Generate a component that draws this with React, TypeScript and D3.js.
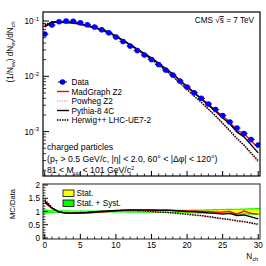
import React from "react";
import * as d3 from "d3";

const nch = d3.range(0, 31);
const dataVals = [0.0582, 0.0847, 0.0971, 0.1, 0.0988, 0.0932, 0.0857, 0.0779, 0.0697, 0.0614, 0.0514, 0.0426, 0.0353, 0.0293, 0.0243, 0.0201, 0.01634, 0.013, 0.01056, 0.00822, 0.0064, 0.00505, 0.004, 0.00315, 0.00251, 0.00195, 0.00149, 0.00116, 0.000924, 0.00072, 0.000572];
const madgraphRatio = [1.33, 1.12, 0.98, 0.94, 0.93, 0.93, 0.94, 0.96, 0.98, 1.0, 1.02, 1.04, 1.05, 1.05, 1.05, 1.05, 1.05, 1.05, 1.04, 1.03, 1.02, 1.02, 1.0, 1.0, 0.97, 0.98, 1.0, 0.9, 1.02, 0.93, 0.9];
const powhegRatio = [1.4, 1.14, 0.98, 0.94, 0.94, 0.95, 0.96, 0.98, 1.0, 1.01, 1.02, 1.03, 1.03, 1.02, 1.01, 0.99, 0.97, 0.96, 0.94, 0.91, 0.88, 0.85, 0.83, 0.79, 0.75, 0.71, 0.68, 0.62, 0.6, 0.55, 0.48];
const pythiaRatio = [1.38, 1.13, 0.98, 0.94, 0.94, 0.95, 0.96, 0.98, 1.0, 1.02, 1.04, 1.05, 1.06, 1.06, 1.06, 1.06, 1.05, 1.05, 1.04, 1.02, 1.0, 0.99, 0.97, 0.95, 0.93, 0.9, 0.93, 0.85, 0.87, 0.8, 0.72];
const herwigRatio = [1.45, 1.15, 0.98, 0.95, 0.95, 0.96, 0.97, 0.99, 1.01, 1.02, 1.03, 1.04, 1.04, 1.03, 1.02, 1.0, 0.98, 0.97, 0.95, 0.92, 0.9, 0.87, 0.85, 0.81, 0.77, 0.73, 0.7, 0.65, 0.62, 0.57, 0.52];
const statErr = [0.02, 0.01, 0.01, 0.01, 0.01, 0.01, 0.01, 0.01, 0.01, 0.01, 0.01, 0.01, 0.012, 0.014, 0.016, 0.018, 0.02, 0.022, 0.025, 0.028, 0.03, 0.035, 0.04, 0.045, 0.05, 0.055, 0.06, 0.065, 0.07, 0.08, 0.09];
const totErr = [0.08, 0.06, 0.05, 0.045, 0.04, 0.04, 0.04, 0.04, 0.04, 0.04, 0.04, 0.04, 0.045, 0.045, 0.05, 0.05, 0.055, 0.055, 0.06, 0.065, 0.07, 0.075, 0.08, 0.085, 0.09, 0.095, 0.1, 0.105, 0.11, 0.12, 0.13];
const xTicks = [0, 5, 10, 15, 20, 25, 30];
const ratioTicks = [0, 0.5, 1, 1.5, 2];
const logMajor = [-3, -2, -1];

const FONT = "'Liberation Sans', Arial, Helvetica, sans-serif";

export default function App() {
  const L = 43, R = 260;
  const T1 = 12, B1 = 176;
  const T2 = 184, B2 = 239;
  const x = d3.scaleLinear().domain([-0.25, 30.25]).range([L, R]);
  const y = d3.scaleLog().domain([Math.pow(10, -3.803), Math.pow(10, -0.837)]).range([B1, T1]);
  const yr = d3.scaleLinear().domain([0, 2]).range([238, 185]);

  const models = [
    { name: "MadGraph Z2", ratio: madgraphRatio, color: "#ff0000", dash: "", w: 1.4 },
    { name: "Powheg Z2", ratio: powhegRatio, color: "#ff7777", dash: "1.2,1.2", w: 1.2 },
    { name: "Pythia-8 4C", ratio: pythiaRatio, color: "#000000", dash: "", w: 1.4 },
    { name: "Herwig++ LHC-UE7-2", ratio: herwigRatio, color: "#000000", dash: "1.5,1", w: 1.4 },
  ];

  const topLine = d3.line<number>().x((_, i) => x(nch[i])).y((v) => y(v));
  const ratioLine = d3.line<number>().x((_, i) => x(nch[i])).y((v) => yr(v));

  const bandExt = (err: number[]) => {
    const pts = err.map((e, i) => ({ n: nch[i], e }));
    const up = pts.flatMap((p) => [[x(p.n - 0.5), yr(1 + p.e)], [x(p.n + 0.5), yr(1 + p.e)]]);
    const dn = pts.slice().reverse().flatMap((p) => [[x(p.n + 0.5), yr(1 - p.e)], [x(p.n - 0.5), yr(1 - p.e)]]);
    return "M" + up.concat(dn).map((p) => p.join(",")).join("L") + "Z";
  };

  const minorLog: number[] = [];
  for (let d = -4; d <= -1; d++) for (let m = 2; m <= 9; m++) {
    const v = m * Math.pow(10, d);
    if (v >= Math.pow(10, -3.803) && v <= Math.pow(10, -0.837)) minorLog.push(v);
  }
  const minorX = d3.range(0, 31).filter((v) => v % 5 !== 0);
  const minorR = d3.range(0, 2.01, 0.1).filter((v) => Math.abs(v * 2 - Math.round(v * 2)) > 1e-6);

  const fs = 8.2;
  const fi = 8.7;
  const legY = [82, 91.5, 101, 110.5, 120];

  return (
    <svg width={266} height={266} style={{ position: "absolute", left: 0, top: 0, background: "#fff" }} fontFamily={FONT}>
      <defs>
        <clipPath id="c1"><rect x={L} y={T1} width={R - L} height={B1 - T1} /></clipPath>
        <clipPath id="c2"><rect x={L} y={T2} width={R - L} height={B2 - T2} /></clipPath>
      </defs>
      <rect width={266} height={266} fill="#fff" />

      {/* top panel */}
      <g clipPath="url(#c1)">
        {models.map((m) => (
          <path key={m.name} d={topLine(m.ratio.map((r, i) => r * dataVals[i])) || ""} fill="none" stroke={m.color} strokeWidth={m.w} strokeDasharray={m.dash || undefined} />
        ))}
        {dataVals.map((v, i) => (
          <g key={i}>
            <line x1={x(nch[i] - 0.5)} x2={x(nch[i] + 0.5)} y1={y(v)} y2={y(v)} stroke="#000" strokeWidth={1} />
            <circle cx={x(nch[i])} cy={y(v)} r={2.8} fill="#0000ff" />
          </g>
        ))}
      </g>
      <rect x={L} y={T1} width={R - L} height={B1 - T1} fill="none" stroke="#000" strokeWidth={1.2} />
      {logMajor.map((d) => (
        <g key={d}>
          <line x1={L} x2={L + 6} y1={y(Math.pow(10, d))} y2={y(Math.pow(10, d))} stroke="#000" />
          <text x={L - 4} y={y(Math.pow(10, d)) + 3} textAnchor="end" fontSize={fs}>
            10<tspan dy={-3.5} fontSize={6}>{d}</tspan>
          </text>
        </g>
      ))}
      {minorLog.map((v, i) => (
        <line key={i} x1={L} x2={L + 3} y1={y(v)} y2={y(v)} stroke="#000" strokeWidth={0.8} />
      ))}
      {xTicks.map((t) => (
        <line key={t} x1={x(t)} x2={x(t)} y1={B1} y2={B1 - 5} stroke="#000" />
      ))}
      {minorX.map((t) => (
        <line key={t} x1={x(t)} x2={x(t)} y1={B1} y2={B1 - 2.5} stroke="#000" strokeWidth={0.8} />
      ))}

      <text x={254} y={23} textAnchor="end" fontSize={fs}>
        CMS  <tspan>√</tspan><tspan textDecoration="overline">s</tspan> = 7 TeV
      </text>

      {/* legend */}
      <circle cx={62.5} cy={legY[0]} r={2.8} fill="#0000ff" />
      <line x1={58} x2={67} y1={legY[0]} y2={legY[0]} stroke="#000" strokeWidth={1} />
      <text x={71.5} y={legY[0] + 3} fontSize={fs}>Data</text>
      {models.map((m, i) => (
        <g key={m.name}>
          <line x1={57} x2={69} y1={legY[i + 1]} y2={legY[i + 1]} stroke={m.color} strokeWidth={m.w} strokeDasharray={m.dash || undefined} />
          <text x={71.5} y={legY[i + 1] + 3} fontSize={fs}>{m.name}</text>
        </g>
      ))}

      <text x={47} y={150} fontSize={fi}>charged particles</text>
      <text x={47} y={162} fontSize={fi}>
        (p<tspan dy={2} fontSize={5.5}>T</tspan><tspan dy={-2}> &gt; 0.5 GeV/c, |η| &lt; 2.0, 60° &lt; |Δφ| &lt; 120°)</tspan>
      </text>
      <text x={47} y={173} fontSize={fi}>
        81 &lt; M<tspan dy={2} fontSize={5.5}>μμ</tspan><tspan dy={-2}> &lt; 101 GeV/c</tspan><tspan dy={-3.5} fontSize={5.5}>2</tspan>
      </text>

      <text transform={`translate(13,52) rotate(-90)`} textAnchor="middle" fontSize={fs}>
        (1/N<tspan dy={2} fontSize={5.5}>ev</tspan><tspan dy={-2}>) dN</tspan><tspan dy={2} fontSize={5.5}>ev</tspan><tspan dy={-2}>/dN</tspan><tspan dy={2} fontSize={5.5}>ch</tspan>
      </text>

      {/* ratio panel */}
      <g clipPath="url(#c2)">
        <path d={bandExt(totErr)} fill="#00ff00" />
        <path d={bandExt(statErr)} fill="#ffff00" />
        {models.map((m) => (
          <path key={m.name} d={ratioLine(m.ratio) || ""} fill="none" stroke={m.color} strokeWidth={m.w} strokeDasharray={m.dash || undefined} />
        ))}
      </g>
      <rect x={L} y={T2} width={R - L} height={B2 - T2} fill="none" stroke="#555" strokeWidth={1.3} />
      {ratioTicks.map((t) => (
        <g key={t}>
          <line x1={L} x2={L + 5} y1={yr(t)} y2={yr(t)} stroke="#000" />
          <text x={L - 3} y={yr(t) + 3} textAnchor="end" fontSize={fs}>{t}</text>
        </g>
      ))}
      {minorR.map((t, i) => (
        <line key={i} x1={L} x2={L + 2.5} y1={yr(t)} y2={yr(t)} stroke="#000" strokeWidth={0.8} />
      ))}
      {xTicks.map((t) => (
        <g key={t}>
          <line x1={x(t)} x2={x(t)} y1={B2} y2={B2 - 5} stroke="#000" />
          <text x={x(t)} y={248} textAnchor="middle" fontSize={fs}>{t}</text>
        </g>
      ))}
      {minorX.map((t) => (
        <line key={t} x1={x(t)} x2={x(t)} y1={B2} y2={B2 - 2.5} stroke="#000" strokeWidth={0.8} />
      ))}
      <text x={258} y={259} textAnchor="end" fontSize={fs}>
        N<tspan dy={2} fontSize={5.5}>ch</tspan>
      </text>
      <text transform={`translate(15,204) rotate(-90)`} textAnchor="middle" fontSize={7.6}>MC/Data</text>

      <rect x={63} y={190} width={11} height={6.5} fill="#ffff00" stroke="#000" strokeWidth={0.8} />
      <text x={76.5} y={196} fontSize={fs}>Stat.</text>
      <rect x={63} y={200} width={11} height={6.5} fill="#00ff00" stroke="#000" strokeWidth={0.8} />
      <text x={76.5} y={206} fontSize={fs}>Stat. + Syst.</text>
    </svg>
  );
}
